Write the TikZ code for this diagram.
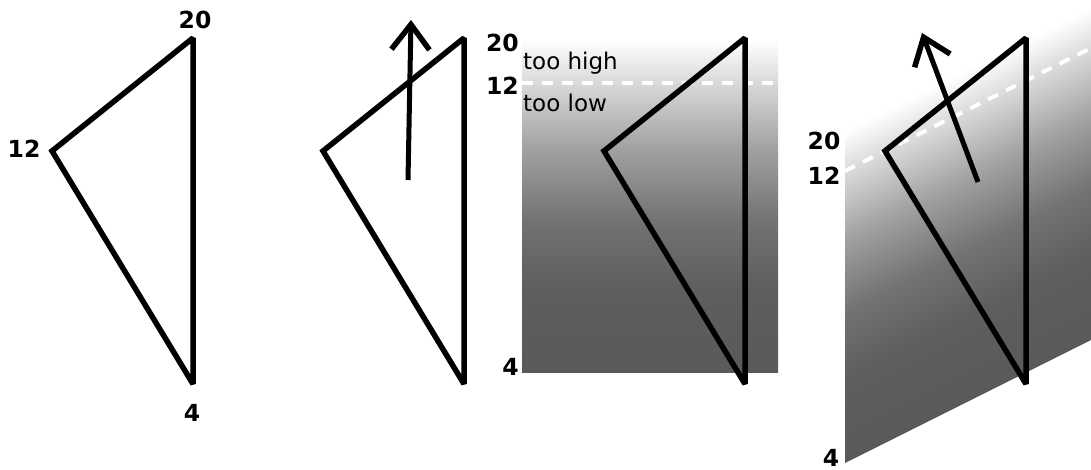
\documentclass[tikz,border=0pt]{standalone}
\usepackage{fontspec}
\setmainfont{DejaVu Sans}
\usetikzlibrary{arrows.meta}
\pgfdeclareverticalshading{fade}{100bp}{rgb(0bp)=(0.35,0.35,0.35); rgb(25bp)=(0.35,0.35,0.35); rgb(37.8bp)=(0.37,0.37,0.37); rgb(47.9bp)=(0.45,0.45,0.45); rgb(58.5bp)=(0.63,0.63,0.63); rgb(68.5bp)=(0.85,0.85,0.85); rgb(75bp)=(1,1,1); rgb(100bp)=(1,1,1)}
\tikzset{
    tri/.style={line width=5.5pt,miter limit=2},
    arr/.style={line width=5pt,-{Straight Barb[length=25pt,width=38pt,line width=5.5pt]}},
    lvl/.style={white,line width=4pt,dash pattern=on 11pt off 9pt},
    num/.style={inner sep=0pt,font=\fontsize{23.5}{28}\selectfont\bfseries},
    txt/.style={inner sep=0pt,anchor=base west,font=\fontsize{23}{27}\selectfont}
}
\begin{document}
\begin{tikzpicture}[x=1pt,y=-1pt]
                \useasboundingbox (0,0) rectangle (1091,470);
                \shade[shading=fade] (522,40) rectangle (778,372);
                \begin{scope}
                    \clip (0,0) rectangle (1091,470);
                    \shade[shading=fade,transform canvas={yslant=0.5}] (845,553.5) rectangle (1100,885.5);
                \end{scope}
                \coordinate (l3) at (522,83);
                \coordinate (r3) at (778,83);
                \coordinate (l4) at (845,171);
                \coordinate (r4) at (1100,43.5);
                \draw[lvl] (l3)--(r3);
                \draw[lvl] (l4)--(r4);
                \node[num] (a20) at (195,20) {20};
                \node[num] (a12) at (24,149) {12};
                \node[num] (a4) at (192,413) {4};
                \node[num,anchor=east] (c20) at (519,43) {20};
                \node[num,anchor=east] (c12) at (519,86) {12};
                \node[num,anchor=east] (c4) at (519,367) {4};
                \node[txt] (hi) at (523,70) {too high};
                \node[txt] (lo) at (523,112) {too low};
                \node[num] (d20) at (824,141) {20};
                \node[num] (d12) at (824,176) {12};
                \node[num] (d4) at (831,458) {4};
                \foreach \d in {0,271,552,833}
                    \draw[tri] (193+\d,38)--(193+\d,384)--(52+\d,151)--cycle;
                \coordinate (t2) at (408,180);
                \coordinate (p2) at (411,20);
                \coordinate (t4) at (978,182);
                \coordinate (p4) at (922,33);
                \draw[arr] (t2)--(p2);
                \draw[arr] (t4)--(p4);
            \end{tikzpicture}
\end{document}
